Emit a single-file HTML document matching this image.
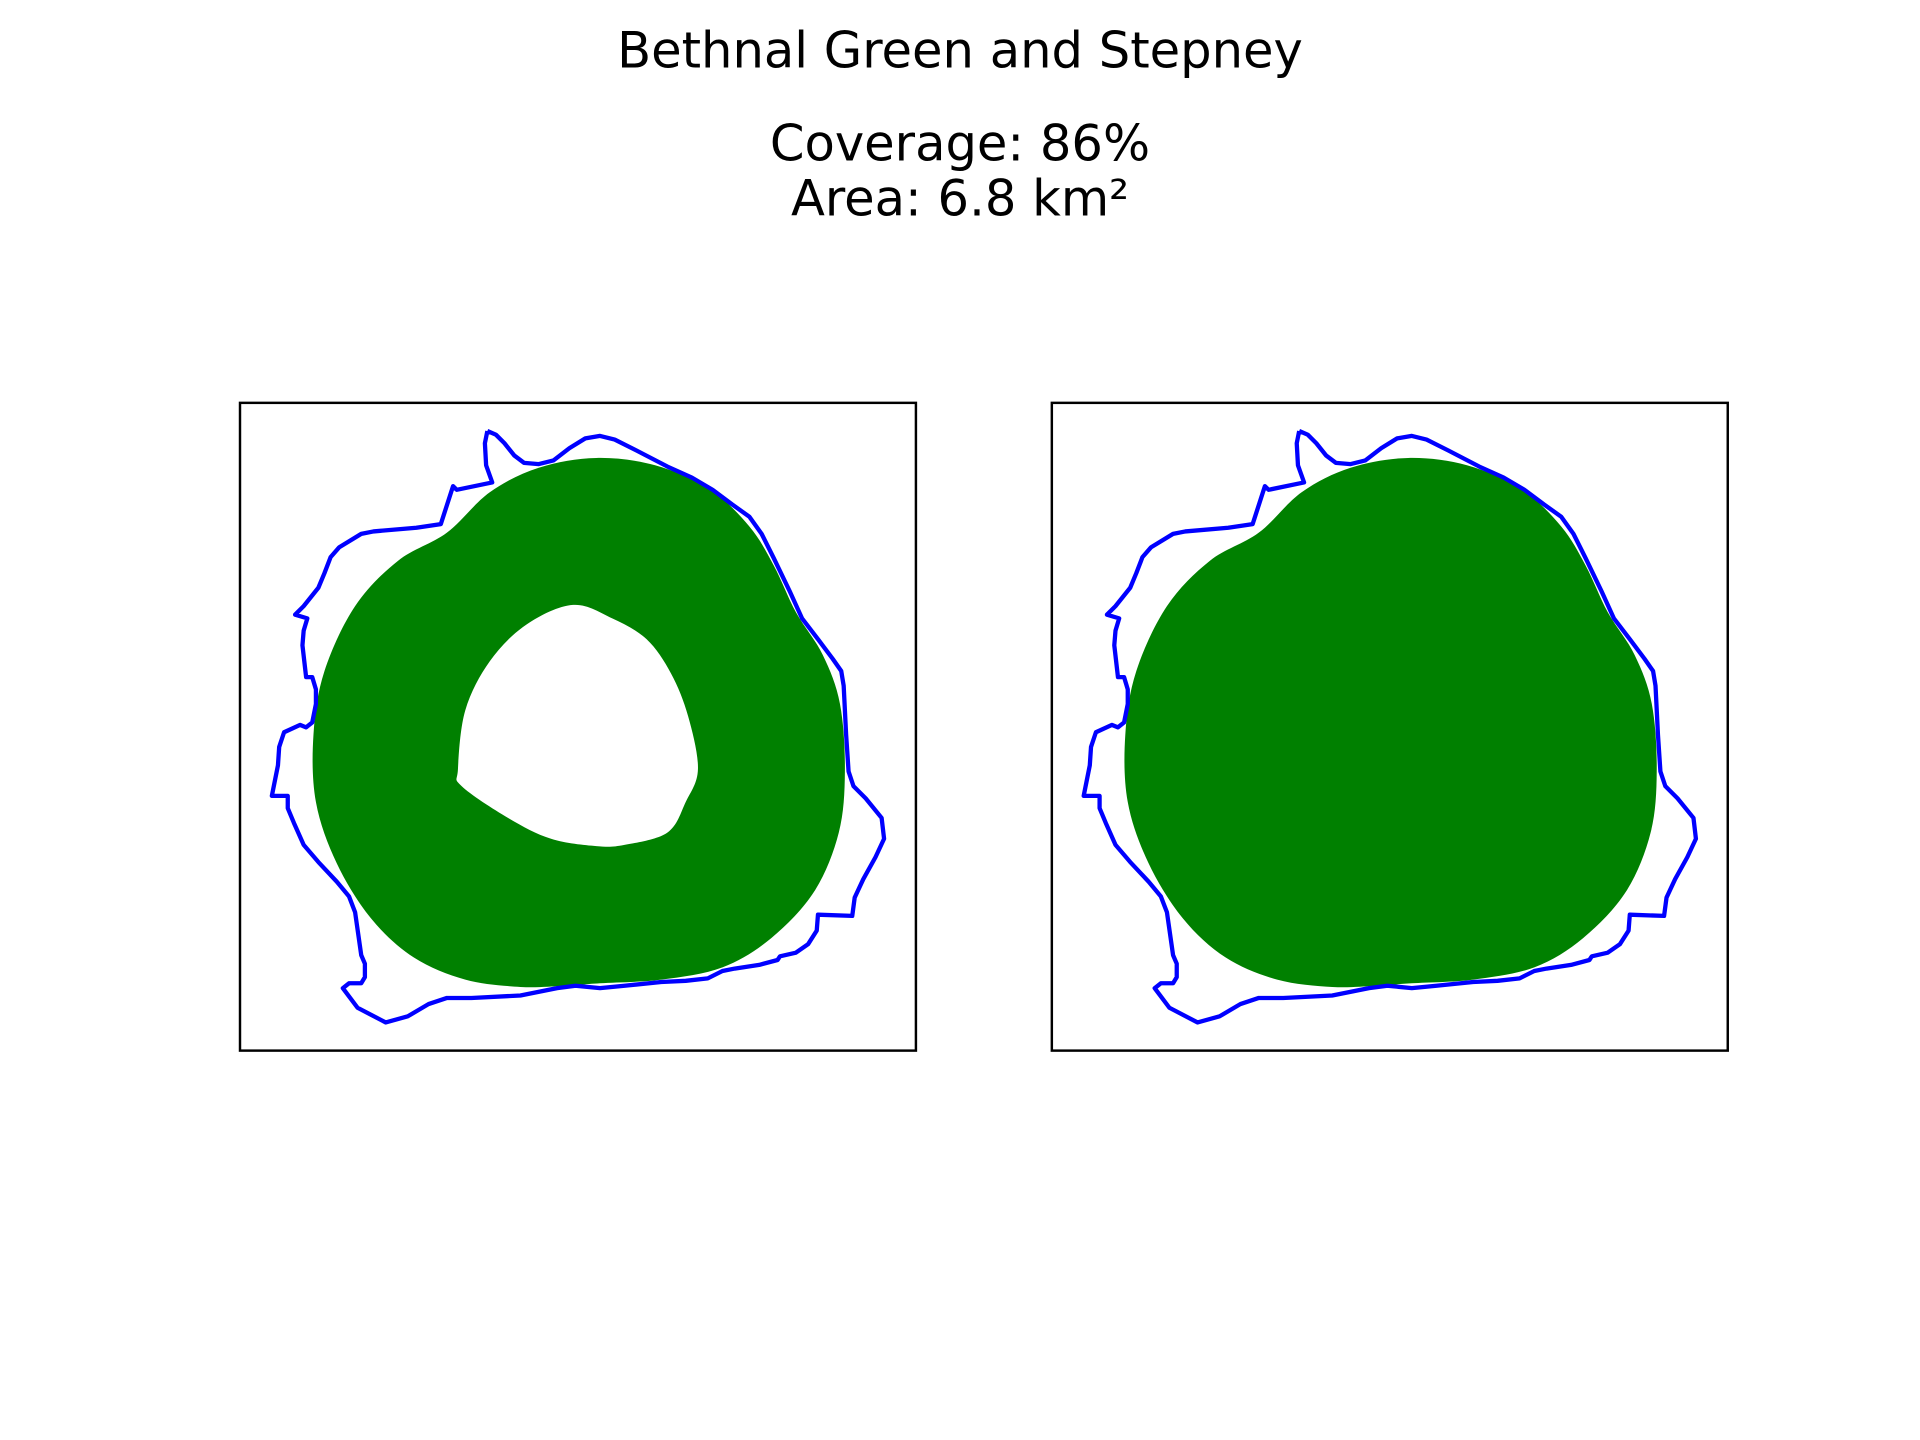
<!DOCTYPE html>
<html><head><meta charset="utf-8"><style>
html,body{margin:0;padding:0;background:#fff;}
svg{display:block}
</style></head><body>
<svg width="1920" height="1440" viewBox="0 0 1568 1176" xmlns="http://www.w3.org/2000/svg">
<rect width="1568" height="1176" fill="#fff"/>
<text x="784" y="55" text-anchor="middle" font-family="DejaVu Sans, Liberation Sans, sans-serif" font-size="40.5">Bethnal Green and Stepney</text>
<text x="784" y="131" text-anchor="middle" font-family="DejaVu Sans, Liberation Sans, sans-serif" font-size="40.5">Coverage: 86%</text>
<text x="784" y="176" text-anchor="middle" font-family="DejaVu Sans, Liberation Sans, sans-serif" font-size="40.5">Area: 6.8 km²</text>
<g id="left"></g>
<g id="right"></g>
</svg>
<script>
const boundaryX=[398,405,412,420,428,440,452,465,478,490,502,520,545,565,582,598,612,622,632,645,655,668,680,687,689,691,693,697,707,720,722,715,705,698,696,668,667,660,650,637,635,620,600,590,578,560,540,510,490,470,455,425,385,365,350,333,315,292,280,285,295,298,298,295,290,285,275,260,248,240,235,235,222,227,228,232,245,250,255,258,258,255,250,247,248,251,241,248,260,265,270,277,295,305,340,360,370,373,402,397,396,398];
const boundaryY=[352,355,362,372,378,379,376,366,358,356,359,368,381,390,400,412,422,436,456,483,505,522,538,548,560,600,630,642,652,668,685,700,718,733,748,747,760,771,778,781,784,788,791,793,799,801,802,805,807,805,807,813,815,815,820,830,835,823,807,803,803,798,787,780,745,732,720,704,690,672,660,650,650,625,610,598,592,594,590,575,563,553,553,527,515,505,502,495,480,468,455,447,436,434,431,428,397,400,394,380,362,352];
const outerX=[365,400,440,487,535,580,612,632,650,672,686,690,685,665,630,590,540,490,460,425,380,338,303,275,258,256,265,290,325];
const outerY=[435,402,382,374,380,400,430,462,500,535,575,630,680,728,766,790,800,803,805,806,800,782,750,705,655,600,548,495,458];
const holeX=[468,500,528,548,562,570,560,545,510,487,450,415,377,374,380,400,430];
const holeY=[494,505,522,550,585,628,655,680,690,691,685,668,642,628,580,540,510];
const panels=[{id:'left',x0:196,ring:true},{id:'right',x0:859,ring:false}];
const NS='http://www.w3.org/2000/svg';
function smooth(xs,ys,dx){
  const n=xs.length;let d=`M${xs[0]+dx},${ys[0]}`;
  for(let i=0;i<n;i++){
    const p0=[xs[(i-1+n)%n]+dx,ys[(i-1+n)%n]],p1=[xs[i]+dx,ys[i]],p2=[xs[(i+1)%n]+dx,ys[(i+1)%n]],p3=[xs[(i+2)%n]+dx,ys[(i+2)%n]];
    const c1=[p1[0]+(p2[0]-p0[0])/6,p1[1]+(p2[1]-p0[1])/6],c2=[p2[0]-(p3[0]-p1[0])/6,p2[1]-(p3[1]-p1[1])/6];
    d+=`C${c1[0]},${c1[1]} ${c2[0]},${c2[1]} ${p2[0]},${p2[1]}`;
  }
  return d+'Z';
}
panels.forEach(p=>{
  const g=document.getElementById(p.id);const dx=p.x0-196;
  const fr=document.createElementNS(NS,'rect');
  
  
  fr.setAttribute('x',p.x0);fr.setAttribute('y',329);fr.setAttribute('width',552);fr.setAttribute('height',529);
  fr.setAttribute('fill','none');fr.setAttribute('stroke','#000');fr.setAttribute('stroke-width','2');
  g.appendChild(fr);
  const cov=document.createElementNS(NS,'path');
  
  
  let d=smooth(outerX,outerY,dx);
  if(p.ring)d+=smooth(holeX,holeY,dx);
  cov.setAttribute('d',d);cov.setAttribute('fill','#008000');cov.setAttribute('fill-rule','evenodd');
  g.appendChild(cov);
  const b=document.createElementNS(NS,'polyline');
  
  
  b.setAttribute('points',boundaryX.map((x,i)=>(x+dx)+','+boundaryY[i]).join(' '));
  b.setAttribute('fill','none');b.setAttribute('stroke','#0000ff');b.setAttribute('stroke-width','3.5');b.setAttribute('stroke-linejoin','round');
  g.appendChild(b);
});
</script>
</body></html>
